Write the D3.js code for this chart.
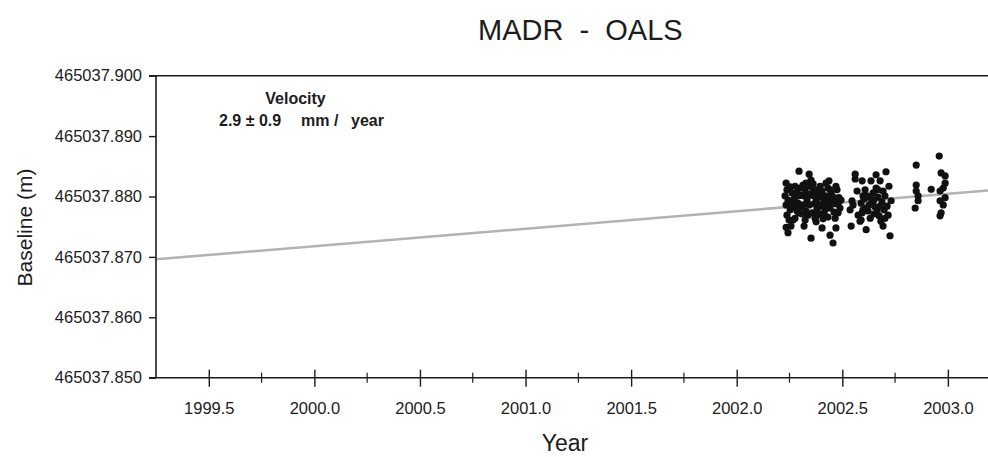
<!DOCTYPE html>
<html>
<head>
<meta charset="utf-8">
<script src="https://cdn.jsdelivr.net/npm/d3@7"></script>
<style>
  html, body { margin: 0; padding: 0; background: #fff; }
  svg { display: block; font-family: "Liberation Sans", Arial, Helvetica, sans-serif; }
</style>
</head>
<body>
<svg id="chart" width="988" height="457"></svg>
<script>
// Daily solutions of the MADR - OALS baseline length (decimal year, metres)
const epochs = [
  2002.234, 2002.238, 2002.229, 2002.243, 2002.234, 2002.253, 2002.238, 2002.248, 2002.234, 2002.243,
  2002.257, 2002.262, 2002.253, 2002.276, 2002.286, 2002.271, 2002.290, 2002.281, 2002.295, 2002.276,
  2002.267, 2002.295, 2002.290, 2002.300, 2002.305, 2002.314, 2002.324, 2002.319, 2002.333, 2002.314,
  2002.328, 2002.338, 2002.324, 2002.343, 2002.319, 2002.338, 2002.347, 2002.352, 2002.362, 2002.371,
  2002.357, 2002.376, 2002.366, 2002.380, 2002.357, 2002.371, 2002.352, 2002.385, 2002.376, 2002.395,
  2002.404, 2002.390, 2002.414, 2002.399, 2002.418, 2002.395, 2002.409, 2002.423, 2002.404, 2002.418,
  2002.437, 2002.432, 2002.447, 2002.437, 2002.456, 2002.442, 2002.461, 2002.432, 2002.442, 2002.456,
  2002.466, 2002.451, 2002.475, 2002.484, 2002.470, 2002.489, 2002.480, 2002.494, 2002.470, 2002.470,
  2002.262, 2002.286, 2002.305, 2002.328, 2002.343, 2002.362, 2002.385, 2002.399, 2002.428, 2002.442,
  2002.461, 2002.414, 2002.309, 2002.380, 2002.480,
  2002.561, 2002.561, 2002.570, 2002.546, 2002.537, 2002.575, 2002.542, 2002.584, 2002.551, 2002.594,
  2002.608, 2002.598, 2002.589, 2002.613, 2002.594, 2002.589, 2002.603, 2002.636, 2002.660, 2002.679,
  2002.660, 2002.646, 2002.632, 2002.641, 2002.655, 2002.622, 2002.650, 2002.632, 2002.613, 2002.669,
  2002.665, 2002.674, 2002.707, 2002.693, 2002.702, 2002.688, 2002.712, 2002.698, 2002.717, 2002.683,
  2002.726, 2002.731, 2002.721, 2002.693,
  2002.617, 2002.627, 2002.650, 2002.679, 2002.669, 2002.598, 2002.702,
  2002.850, 2002.850, 2002.850, 2002.859, 2002.859, 2002.845, 2002.921,
  2002.959, 2002.968, 2002.987, 2002.987, 2002.978, 2002.963, 2002.987, 2002.963, 2002.978, 2002.968,
  2002.963
];
const baseline = [
  465037.8822, 465037.8811, 465037.8801, 465037.8794, 465037.8786, 465037.8778, 465037.8769, 465037.8761, 465037.8749, 465037.8740,
  465037.8751, 465037.8806, 465037.8816, 465037.8817, 465037.8807, 465037.8796, 465037.8789, 465037.8781, 465037.8773, 465037.8764,
  465037.8761, 465037.8842, 465037.8801, 465037.8814, 465037.8783, 465037.8819, 465037.8811, 465037.8801, 465037.8794, 465037.8786,
  465037.8776, 465037.8769, 465037.8761, 465037.8837, 465037.8751, 465037.8804, 465037.8817, 465037.8827, 465037.8821, 465037.8811,
  465037.8802, 465037.8796, 465037.8788, 465037.8779, 465037.8773, 465037.8764, 465037.8731, 465037.8806, 465037.8758, 465037.8817,
  465037.8809, 465037.8799, 465037.8793, 465037.8784, 465037.8778, 465037.8771, 465037.8763, 465037.8822, 465037.8748, 465037.8801,
  465037.8826, 465037.8814, 465037.8806, 465037.8796, 465037.8789, 465037.8781, 465037.8774, 465037.8766, 465037.8736, 465037.8723,
  465037.8764, 465037.8801, 465037.8811, 465037.8798, 465037.8788, 465037.8781, 465037.8773, 465037.8794, 465037.8817, 465037.8748,
  465037.8788, 465037.8776, 465037.8802, 465037.8822, 465037.8786, 465037.8811, 465037.8788, 465037.8801, 465037.8786, 465037.8811,
  465037.8798, 465037.8771, 465037.8771, 465037.8769, 465037.8788,
  465037.8837, 465037.8829, 465037.8809, 465037.8793, 465037.8778, 465037.8769, 465037.8751, 465037.8759, 465037.8786, 465037.8826,
  465037.8811, 465037.8801, 465037.8789, 465037.8781, 465037.8773, 465037.8761, 465037.8796, 465037.8826, 465037.8836, 465037.8826,
  465037.8814, 465037.8806, 465037.8798, 465037.8789, 465037.8783, 465037.8776, 465037.8771, 465037.8764, 465037.8745, 465037.8799,
  465037.8776, 465037.8768, 465037.8841, 465037.8809, 465037.8801, 465037.8791, 465037.8784, 465037.8778, 465037.8769, 465037.8759,
  465037.8735, 465037.8793, 465037.8817, 465037.8751,
  465037.8801, 465037.8786, 465037.8794, 465037.8784, 465037.8811, 465037.8778, 465037.8764,
  465037.8852, 465037.8819, 465037.8809, 465037.8801, 465037.8793, 465037.8781, 465037.8812,
  465037.8867, 465037.8839, 465037.8834, 465037.8822, 465037.8814, 465037.8809, 465037.8798, 465037.8793, 465037.8786, 465037.8773,
  465037.8768
];

// Fitted linear trend (2.9 mm/yr) evaluated at the ends of the time window
const trendEpochs = [1999.25, 2003.19];
const trendValues = [465037.8696, 465037.8810];

// Axis ticks
const xMajorTicks = [1999.5, 2000.0, 2000.5, 2001.0, 2001.5, 2002.0, 2002.5, 2003.0];
const xMinorTicks = [1999.75, 2000.25, 2000.75, 2001.25, 2001.75, 2002.25, 2002.75];
const yTicks = [465037.850, 465037.860, 465037.870, 465037.880, 465037.890, 465037.900];

const titleText = "MADR  -  OALS";
const xLabel = "Year";
const yLabel = "Baseline (m)";
const velocityTitle = "Velocity";
const velocityParts = ["2.9 \u00B1 0.9", "mm /", "year"];

const svg = d3.select("#chart");
const plot = { left: 156, right: 988, top: 75.7, bottom: 377.7 };

const x = d3.scaleLinear().domain([1999.25, 2003.19]).range([plot.left, plot.right]);
const y = d3.scaleLinear().domain([465037.850, 465037.900]).range([plot.bottom, plot.top]);

const ink = "#1c1c1c";

// Title
svg.append("text")
  .attr("x", 478).attr("y", 40)
  .style("white-space", "pre")
  .attr("font-size", 29)
  .attr("fill", ink)
  .text(titleText);

// Trend line
svg.append("line")
  .attr("x1", x(trendEpochs[0])).attr("y1", y(trendValues[0]))
  .attr("x2", x(trendEpochs[1])).attr("y2", y(trendValues[1]))
  .attr("stroke", "#b3b3b3")
  .attr("stroke-width", 2.6);

// Observations
svg.append("g")
  .selectAll("circle")
  .data(epochs.map((t, i) => [t, baseline[i]]))
  .join("circle")
  .attr("cx", d => x(d[0]))
  .attr("cy", d => y(d[1]))
  .attr("r", 3.6)
  .attr("fill", "#111");

// Bottom axis: major ticks crossing the axis line, labels below
const xAxis = d3.axisBottom(x)
  .tickValues(xMajorTicks)
  .tickFormat(d3.format(".1f"))
  .tickSizeOuter(0)
  .tickSizeInner(9)
  .tickPadding(16);

const gx = svg.append("g")
  .attr("transform", `translate(0,${plot.bottom})`)
  .call(xAxis);
gx.select(".domain").remove();
gx.selectAll(".tick line")
  .attr("y1", -8).attr("y2", 9)
  .attr("stroke", ink).attr("stroke-width", 1.4);
gx.selectAll(".tick text")
  .attr("font-size", 16.5)
  .attr("font-family", "Liberation Sans, Arial, sans-serif")
  .attr("fill", ink);

// Minor ticks on the bottom axis
svg.append("g")
  .selectAll("line")
  .data(xMinorTicks)
  .join("line")
  .attr("x1", d => x(d)).attr("x2", d => x(d))
  .attr("y1", plot.bottom - 5).attr("y2", plot.bottom + 5)
  .attr("stroke", ink).attr("stroke-width", 1.2);

// Left axis
const yAxis = d3.axisLeft(y)
  .tickValues(yTicks)
  .tickFormat(d3.format(".3f"))
  .tickSizeOuter(0)
  .tickSizeInner(7)
  .tickPadding(7);

const gy = svg.append("g")
  .attr("transform", `translate(${plot.left},0)`)
  .call(yAxis);
gy.select(".domain").remove();
gy.selectAll(".tick line")
  .attr("x1", 0).attr("x2", -7)
  .attr("stroke", ink).attr("stroke-width", 1.4);
gy.selectAll(".tick text")
  .attr("font-size", 16.5)
  .attr("font-family", "Liberation Sans, Arial, sans-serif")
  .attr("fill", ink);

// Frame lines: left, bottom, top
svg.append("line")
  .attr("x1", plot.left).attr("x2", plot.left)
  .attr("y1", plot.top).attr("y2", plot.bottom)
  .attr("stroke", ink).attr("stroke-width", 1.6);
svg.append("line")
  .attr("x1", plot.left - 7).attr("x2", plot.right)
  .attr("y1", plot.bottom).attr("y2", plot.bottom)
  .attr("stroke", ink).attr("stroke-width", 1.6);
svg.append("line")
  .attr("x1", plot.left - 7).attr("x2", plot.right)
  .attr("y1", plot.top).attr("y2", plot.top)
  .attr("stroke", ink).attr("stroke-width", 1.6);

// Axis titles
svg.append("text")
  .attr("x", 565).attr("y", 451)
  .attr("text-anchor", "middle")
  .attr("font-size", 23)
  .attr("fill", ink)
  .text(xLabel);

svg.append("text")
  .attr("transform", "translate(32,227.5) rotate(-90)")
  .attr("text-anchor", "middle")
  .attr("font-size", 21)
  .attr("fill", ink)
  .text(yLabel);

// Velocity annotation
svg.append("text")
  .attr("x", 295.5).attr("y", 104)
  .attr("text-anchor", "middle")
  .attr("font-size", 16)
  .attr("font-weight", "bold")
  .attr("fill", ink)
  .text(velocityTitle);

const vel = svg.append("text")
  .attr("y", 126)
  .attr("font-size", 16)
  .attr("font-weight", "bold")
  .attr("fill", ink);
const partX = [219, 301, 351];
vel.selectAll("tspan")
  .data(velocityParts)
  .join("tspan")
  .attr("x", (d, i) => partX[i])
  .text(d => d);
</script>
</body>
</html>
